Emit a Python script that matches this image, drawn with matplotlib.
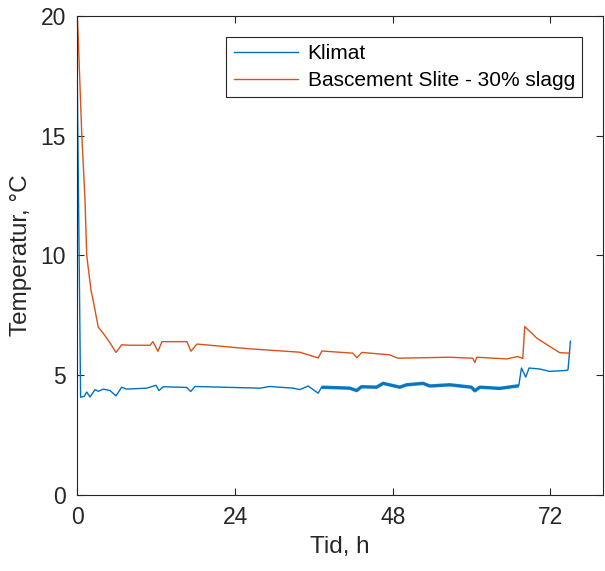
import numpy as np
import matplotlib.pyplot as plt

plt.rcParams['font.family'] = ['Liberation Sans', 'DejaVu Sans']

# Klimat (lufttemperatur)
tid_klimat = [0, 0.5, 1.06, 1.43, 1.93, 2.69, 3.19, 3.95, 4.97, 5.89, 6.75, 7.51,
              10.55, 11.97, 12.43, 13.08, 16.64, 17.25, 17.90, 27.79, 29.31, 32.85,
              33.87, 35.13, 36.65, 37.17, 41.47, 42.49, 43.25, 45.54, 46.54, 49.08,
              50.10, 52.62, 53.64, 56.68, 59.98, 60.49, 61.25, 64.29, 67.18, 67.59,
              68.24, 68.74, 70.37, 71.89, 74.43, 74.68, 75.04]
temp_klimat = [17.2, 4.08, 4.12, 4.30, 4.09, 4.40, 4.33, 4.42, 4.36, 4.14, 4.50, 4.42,
               4.46, 4.58, 4.36, 4.52, 4.49, 4.32, 4.53, 4.46, 4.53, 4.46,
               4.40, 4.55, 4.25, 4.50, 4.46, 4.36, 4.52, 4.50, 4.66, 4.50,
               4.60, 4.66, 4.55, 4.60, 4.50, 4.35, 4.50, 4.45, 4.56, 5.30,
               4.92, 5.30, 5.26, 5.16, 5.20, 5.23, 6.42]

# Bascement Slite - 30% slagg
tid_betong = [0, 0.15, 0.67, 1.17, 1.43, 2.08, 2.39, 3.19, 3.95, 4.97, 5.89, 6.75, 8.0,
              11.06, 11.51, 12.27, 12.88, 16.68, 17.29, 18.2, 26.27, 33.87, 36.65,
              37.22, 41.93, 42.54, 43.30, 47.56, 48.77, 56.68, 60.18, 60.49, 60.79,
              65.35, 67.03, 67.79, 68.09, 69.91, 71.89, 73.41, 74.93]
temp_betong = [20.0, 19.0, 15.1, 12.3, 10.0, 8.55, 8.15, 7.0, 6.75, 6.35, 5.95, 6.27, 6.25,
               6.25, 6.40, 6.00, 6.40, 6.40, 6.00, 6.30, 6.10, 5.96, 5.72,
               6.01, 5.92, 5.73, 5.95, 5.85, 5.71, 5.75, 5.71, 5.53, 5.75,
               5.68, 5.78, 5.70, 7.03, 6.55, 6.20, 5.94, 5.92]

xticks = [0, 24, 48, 72]
yticks = [0, 5, 10, 15, 20]

blue = '#0072BD'
orange = '#D95319'
ink = '#262626'

fig = plt.figure(figsize=(6.05, 5.71), dpi=100)
ax = fig.add_axes([0.1278, 0.133, 0.8689, 0.8395])

ax.plot(tid_klimat, temp_klimat, color=blue, lw=1.0, label='Klimat')
ax.plot(tid_betong, temp_betong, color=orange, lw=1.0, label='Bascement Slite - 30% slagg')

# brusigare mätning mellan ca 39 h och 67 h
t = np.array(tid_klimat)
mask = (t >= 37.17) & (t <= 67.18)
ax.plot(t[mask], np.array(temp_klimat)[mask], color=blue, lw=2.5, alpha=0.9,
        solid_capstyle='butt')

ax.set_xlim(0, 80)
ax.set_ylim(0, 20)
ax.set_xticks(xticks)
ax.set_yticks(yticks)
ax.tick_params(direction='in', top=True, right=True, length=5, width=0.8,
               colors=ink, labelsize=16.5, pad=8)
for s in ax.spines.values():
    s.set_color(ink)
    s.set_linewidth(0.8)

ax.set_xlabel('Tid, h', fontsize=17.5, color=ink, labelpad=5)
ax.set_ylabel('Temperatur, °C', fontsize=17.5, color=ink, labelpad=6)

leg = ax.legend(loc='upper right', fontsize=15, fancybox=False, framealpha=1,
                edgecolor=ink, borderaxespad=1.0, handlelength=3.1,
                handletextpad=0.45, borderpad=0.35, labelspacing=0.4)
leg.get_frame().set_linewidth(0.8)
for txt in leg.get_texts():
    txt.set_color('black')

fig.savefig('out.png', dpi=100)
